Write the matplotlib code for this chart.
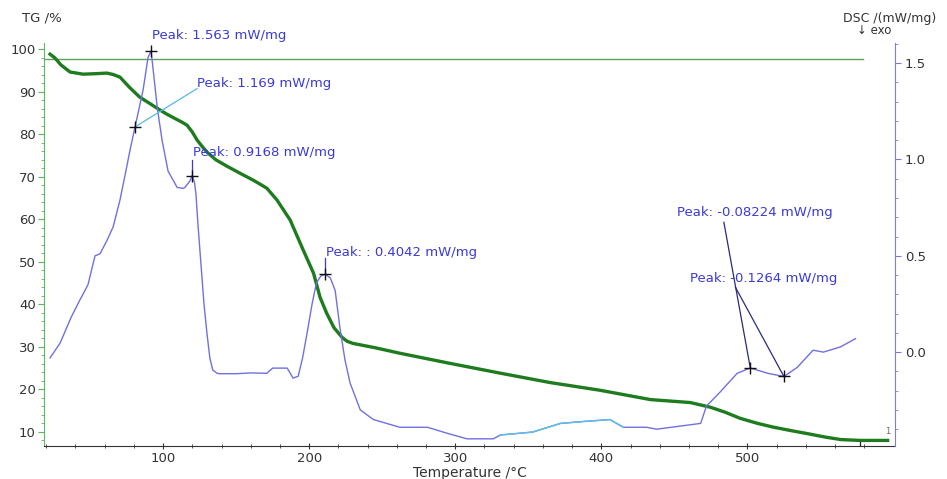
import numpy as np
import matplotlib.pyplot as plt

# TG curve (mass %, vs temperature in deg C)
tg_temp = [22.6, 26, 30, 36.3, 45.2, 53, 61.6, 66, 70.5, 77, 84, 90, 95.9, 102, 108,
           113, 116.4, 120, 123.3, 127, 130, 136, 143, 152.7, 161.6, 171, 178, 187,
           196, 203, 207.5, 212, 217, 222.6, 226, 230, 245, 262, 296.6, 331, 365, 399,
           433.6, 461, 474.7, 485, 495, 507, 518, 530, 541, 553, 564, 577, 596]
tg_mass = [98.8, 97.9, 96.3, 94.6, 94.1, 94.2, 94.35, 94.0, 93.4, 91.0, 88.7, 87.4, 86.1,
           84.8, 83.7, 82.8, 82.1, 80.5, 78.6, 77.0, 75.8, 74.0, 72.6, 70.8, 69.2, 67.3,
           64.5, 59.8, 52.7, 47.3, 41.6, 37.9, 34.5, 32.2, 31.3, 30.8, 29.8, 28.5, 26.1,
           23.8, 21.6, 19.8, 17.6, 16.9, 15.8, 14.6, 13.2, 12.0, 11.1, 10.3, 9.6, 8.8,
           8.2, 8.0, 8.0]

# DSC curve (mW/mg)
dsc_temp = [22.6, 29.5, 37, 43, 48.6, 53.4, 56.8, 61.6, 65.8, 70.5, 74, 77.4, 80.8,
            86.3, 89.7, 91.8, 93, 96, 99.3, 103.4, 109.6, 113.7, 115, 118.5, 119.9,
            121.5, 122.5, 124, 126, 128, 130, 132, 134, 137, 139, 150, 160, 171, 175,
            185, 189, 192.5, 195.5, 198.6, 202, 205, 208, 211, 214.5, 217.8, 221, 224.5,
            228, 235, 244, 262, 281, 294, 308, 326, 331, 353, 372, 388, 406, 415, 431,
            438, 468, 472, 481, 493, 502, 514, 525, 534, 545, 552, 563.7, 574]
dsc_val = [-0.03, 0.047, 0.18, 0.27, 0.35, 0.50, 0.51, 0.58, 0.65, 0.79, 0.92, 1.05,
           1.169, 1.36, 1.53, 1.563, 1.48, 1.27, 1.10, 0.94, 0.855, 0.85, 0.855, 0.89,
           0.9168, 0.88, 0.82, 0.65, 0.45, 0.25, 0.10, -0.03, -0.093, -0.11, -0.112,
           -0.112, -0.108, -0.11, -0.083, -0.083, -0.135, -0.125, -0.03, 0.10, 0.25,
           0.36, 0.395, 0.4042, 0.385, 0.32, 0.13, -0.04, -0.16, -0.30, -0.35, -0.39,
           -0.39, -0.42, -0.45, -0.45, -0.43, -0.415, -0.37, -0.36, -0.35, -0.39, -0.39,
           -0.40, -0.37, -0.28, -0.21, -0.11, -0.08224, -0.11, -0.1264, -0.08, 0.01, 0.0,
           0.027, 0.07]

# peak labels: (temperature, value, text, text x, text y, leader end x, leader end y)
peaks = [
    (91.8, 1.563, "Peak: 1.563 mW/mg", 92.5, 1.642, None, None),
    (80.8, 1.169, "Peak: 1.169 mW/mg", 123.3, 1.394, 123.3, 1.368),
    (119.9, 0.9168, "Peak: 0.9168 mW/mg", 120.5, 1.036, 119.9, 0.995),
    (211.0, 0.4042, "Peak: : 0.4042 mW/mg", 211.6, 0.518, 211.0, 0.487),
    (502.0, -0.08224, "Peak: -0.08224 mW/mg", 452.0, 0.725, 483.9, 0.674),
    (525.0, -0.1264, "Peak: -0.1264 mW/mg", 461.0, 0.383, 491.8, 0.337),
]
leader_colors = ["#3a3ad8", "#55b8e8", "#3a3ad8", "#3a3ad8", "#2a2a80", "#2a2a80"]

baseline_tg = 97.6
baseline_end = 579

fig = plt.figure(figsize=(9.47, 4.79), dpi=100)
ax = fig.add_axes([0.0465, 0.069, 0.8985, 0.841])
ax2 = ax.twinx()

ax.plot(tg_temp, tg_mass, color="#1e7b1e", lw=2.4, zorder=3, solid_joinstyle="round")
ax.plot([18.5, baseline_end], [baseline_tg, baseline_tg], color="#5f9f5f", lw=1.0)
# end-of-segment marks on the TG trace
ax.plot([577, 577], [6.7, 8.0], color="#222222", lw=0.9)
ax.text(596, 9.0, "1", fontsize=6, color="#666666", ha="center", va="bottom")
ax.set_xlim(18.5, 601)
ax.set_ylim(6.7, 101.4)

ax2.plot(dsc_temp, dsc_val, color="#7070e0", lw=1.0)
# lighter stretch of the DSC trace
t = np.array(dsc_temp)
m = (t >= 331) & (t <= 415)
ax2.plot(t[m], np.array(dsc_val)[m], color="#5cc0e8", lw=1.0)
ax2.set_ylim(-0.487, 1.604)

for i, (pt, pv, txt, tx, ty, lx, ly) in enumerate(peaks):
    ax2.plot(pt, pv, marker="+", color="#111111", ms=9, mew=1.0, zorder=5)
    if lx is not None:
        ax2.plot([pt, lx], [pv, ly], color=leader_colors[i], lw=0.9, zorder=4)
    ax2.text(tx, ty, txt, color="#3a3ad8", fontsize=9.5, va="center", ha="left",
             clip_on=False)

# spines and ticks
ax.spines["top"].set_visible(False)
ax2.spines["top"].set_visible(False)
ax.spines["right"].set_visible(False)
ax2.spines["left"].set_visible(False)
ax2.spines["bottom"].set_visible(False)
ax.spines["left"].set_color("#5cb85c")
ax.spines["bottom"].set_color("#333333")
ax2.spines["right"].set_color("#7a7ae8")

ax.set_yticks(np.arange(10, 101, 10))
ax.set_yticks(np.arange(8, 101, 2), minor=True)
ax.set_xticks([100, 200, 300, 400, 500])
ax.set_xticks(np.arange(20, 600, 20), minor=True)
ax2.set_yticks([0.0, 0.5, 1.0, 1.5])
ax2.set_yticks(np.arange(-0.4, 1.61, 0.1), minor=True)
ax2.yaxis.set_major_formatter(plt.FormatStrFormatter("%.1f"))

ax.tick_params(axis="y", which="major", length=4, color="#5cb85c", labelsize=9.5,
               labelcolor="#333333", pad=2)
ax.tick_params(axis="y", which="minor", length=2, color="#5cb85c")
ax.tick_params(axis="x", which="major", length=4, direction="inout", color="#333333",
               labelsize=9.5, labelcolor="#333333", pad=2)
ax.tick_params(axis="x", which="minor", length=3, direction="inout", color="#333333")
ax2.tick_params(axis="y", which="major", length=4, color="#7a7ae8", labelsize=9.5,
                labelcolor="#333333", pad=3)
ax2.tick_params(axis="y", which="minor", length=2, color="#7a7ae8")

fig.text(0.023, 0.962, "TG /%", fontsize=9.5, color="#333333", va="center", ha="left")
fig.text(0.89, 0.962, "DSC /(mW/mg)", fontsize=9, color="#333333", va="center",
         ha="left")
fig.text(0.905, 0.937, "\u2193 exo", fontsize=8.5, color="#333333", va="center",
         ha="left")
fig.text(0.496, 0.0135, "Temperature /\u00b0C", fontsize=10, color="#333333",
         va="center", ha="center")

fig.savefig("out.png", dpi=100)
